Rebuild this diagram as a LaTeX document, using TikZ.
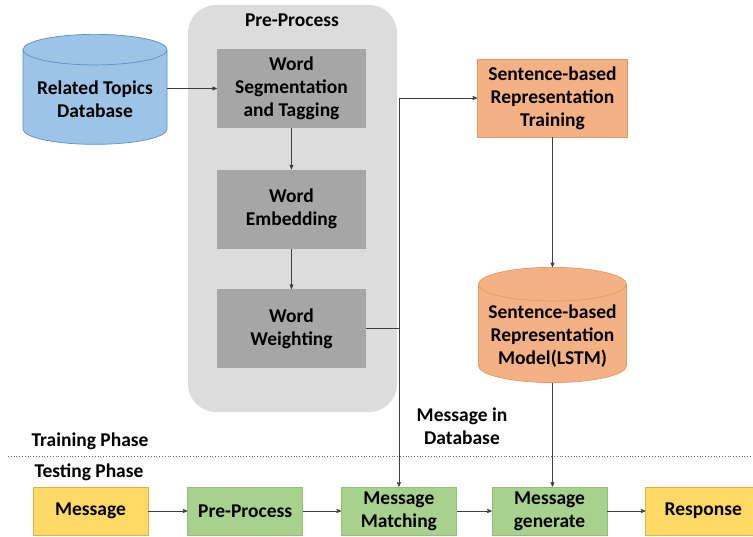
\documentclass[tikz,border=0pt]{standalone}
\usepackage{fontspec}
\setmainfont{Carlito}
\usetikzlibrary{shapes.geometric, positioning, arrows}
\definecolor{dbblue}{HTML}{9DC3E6}
\definecolor{dbline}{HTML}{5B8FC7}
\definecolor{contgray}{HTML}{DCDCDC}
\definecolor{procgray}{HTML}{A6A6A6}
\definecolor{lstmorange}{HTML}{F4B183}
\definecolor{lstmline}{HTML}{E39A68}
\definecolor{ioyellow}{HTML}{FFD966}
\definecolor{ioline}{HTML}{D9B44A}
\definecolor{stepgreen}{HTML}{A9D18E}
\definecolor{stepline}{HTML}{94BE78}
\tikzset{flow/.style={->, >=stealth', black!75, line width=0.7pt},
         txt/.style={font=\fontsize{19.5}{23}\selectfont\bfseries, align=center},
         db/.style={txt, cylinder, shape border rotate=90, draw, line width=0.7pt, aspect=0.25, anchor=north},
         procbox/.style={txt, rectangle, fill=procgray, minimum width=149pt, minimum height=79pt},
         rowbox/.style={txt, rectangle, draw, line width=0.7pt, minimum width=115pt, minimum height=48pt, inner sep=1pt}}

\begin{document}
\begin{tikzpicture}[x=1pt, y=-1pt]
    \useasboundingbox (0,0) rectangle (753,536);
    % pre-process container
    \node[fill=contgray, rounded corners=28pt, minimum width=209pt, minimum height=407pt] (pre) at (292.5,208.5) {};
    \node[txt] (pretitle) at (292,20) {Pre-Process};
    \node[procbox] (seg) at (291.5,88.5) {Word\\Segmentation\\and Tagging};
    \node[procbox] (emb) at (291.5,209) {Word\\Embedding};
    \node[procbox] (wgt) at (291.5,328.5) {Word\\Weighting};
    % databases and training
    \node[db, fill=dbblue, draw=dbline, minimum width=144pt, minimum height=110pt] (rtdb) at (95,34) {Related Topics\\Database};
    \node[txt, fill=lstmorange, draw=lstmline, line width=0.7pt, minimum width=150pt, minimum height=78pt] (train) at (552.5,98) {Sentence-based\\Representation\\Training};
    \node[db, fill=lstmorange, draw=lstmline, minimum width=148pt, minimum height=108pt] (lstm) at (552.5,267) {Sentence-based\\Representation\\Model(LSTM)};
    % phases
    \draw[black!60, dotted, line width=0.8pt] (8,456) -- (753,456);
    \node[txt, anchor=west] (trainph) at (28,441) {Training Phase};
    \node[txt, anchor=west] (testph) at (31,472) {Testing Phase};
    \node[txt] (msgdb) at (462,426) {Message in\\Database};
    % testing row
    \node[rowbox, fill=ioyellow, draw=ioline] (msg) at (90.5,511) {Message};
    \node[rowbox, fill=stepgreen, draw=stepline, right=39pt of msg] (pp) {Pre-Process};
    \node[rowbox, fill=stepgreen, draw=stepline, right=38pt of pp] (match) {Message\\Matching};
    \node[rowbox, fill=stepgreen, draw=stepline, right=35pt of match] (gen) {Message\\generate};
    \node[rowbox, fill=ioyellow, draw=ioline, right=38pt of gen] (resp) {Response};

    \draw[flow] (rtdb.east |- seg.west) -- (seg.west);
    \draw[flow] (seg) -- (emb);
    \draw[flow] (emb) -- (wgt);
    \draw[flow] (wgt.east) -| (match.north);
    \draw[flow] (wgt.east -| match.north) |- (train.west);
    \draw[flow] (train) -- (lstm.north);
    \draw[flow] (lstm.south) -- (lstm.south |- gen.north);
    \draw[flow] (msg) -- (pp);
    \draw[flow] (pp) -- (match);
    \draw[flow] (match) -- (gen);
    \draw[flow] (gen) -- (resp);
\end{tikzpicture}
\end{document}
